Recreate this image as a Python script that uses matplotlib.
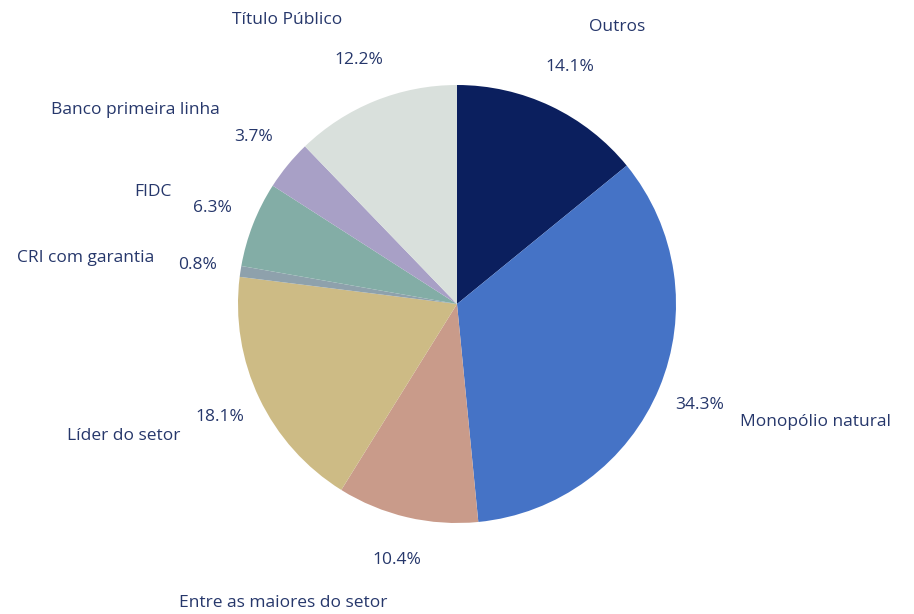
import matplotlib
matplotlib.use("Agg")
import matplotlib.pyplot as plt

categories = ["Outros", "Monopólio natural", "Entre as maiores do setor", "Líder do setor",
              "CRI com garantia", "FIDC", "Banco primeira linha", "Título Público"]
values = [14.1, 34.3, 10.4, 18.1, 0.8, 6.3, 3.7, 12.2]
colors = ["#0B1F5E", "#4573C6", "#C99B8A", "#CDBB85", "#8EA1AC", "#83ADA6", "#A8A0C6", "#D9E0DC"]
text_color = "#26376B"

W, H = 914, 614
fig = plt.figure(figsize=(W / 100, H / 100), dpi=100)
ax = fig.add_axes([0, 0, 1, 1])
R = 219.0
cx, cy = 457.0, 304.0

wedges, texts, autotexts = ax.pie(
    values, labels=categories, colors=colors, startangle=90, counterclock=False,
    autopct="%1.1f%%", pctdistance=1.2, labeldistance=1.4, radius=1.0,
    textprops=dict(color=text_color, fontsize=12.5, family=["Open Sans", "DejaVu Sans"]),
    wedgeprops=dict(linewidth=0),
)
ax.set_xlim(-cx / R, (W - cx) / R)
ax.set_ylim(-(H - cy) / R, cy / R)
ax.set_aspect("auto")
ax.axis("off")
fig.savefig("out.png", dpi=100, facecolor="white")
